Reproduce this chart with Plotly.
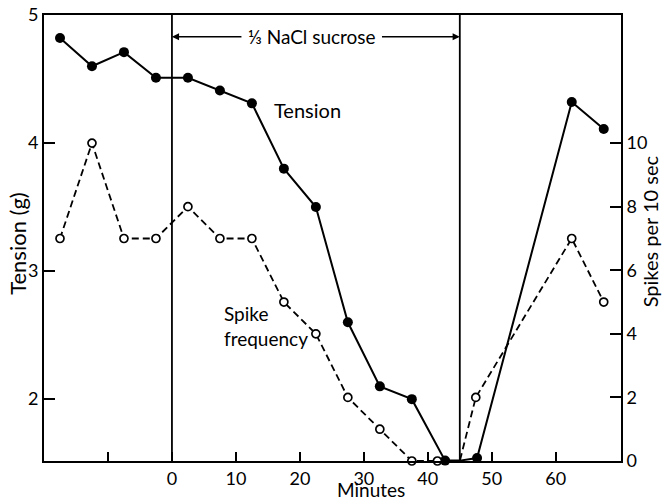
import plotly.graph_objects as go

# ---- data ----
minutes = [-17.5, -12.5, -7.5, -2.5, 2.5, 7.5, 12.5, 17.5, 22.5, 27.5, 32.5, 37.5, 42.7, 47.7, 62.5, 67.5]
tension = [4.82, 4.60, 4.71, 4.51, 4.51, 4.41, 4.31, 3.80, 3.50, 2.60, 2.10, 2.00, 1.52, 1.54, 4.32, 4.11]

spike_minutes = [-17.5, -12.5, -7.5, -2.5, 2.5, 7.5, 12.5, 17.5, 22.5, 27.5, 32.5, 37.5, 41.5, 47.5, 62.5, 67.5]
spikes = [7, 10, 7, 7, 8, 7, 7, 5, 4, 2, 1, 0, 0, 2, 7, 5]

solution_start = 0
solution_end = 45
solution_label = "⅓ NaCl sucrose"

x_ticks = [-10, 0, 10, 20, 30, 40, 50, 60]
x_ticktext = ["", "0", "10", "20", "30", "40", "50", "60"]
y_ticks = [2, 3, 4, 5]
y2_ticks = [0, 2, 4, 6, 8, 10]

FONT = "Lato, 'Open Sans', sans-serif"

# line traces pass through the bottom of the wash-out line at 45 min
n_before = 13
t_line_x = minutes[:n_before] + [solution_end] + minutes[n_before:]
t_line_y = tension[:n_before] + [tension[n_before - 1]] + tension[n_before:]
s_line_x = spike_minutes[:n_before] + [solution_end] + spike_minutes[n_before:]
s_line_y = spikes[:n_before] + [0] + spikes[n_before:]

fig = go.Figure()

fig.add_trace(go.Scatter(x=s_line_x, y=s_line_y, mode="lines", yaxis="y2",
                         line=dict(color="black", width=1.8, dash="7px,4px"),
                         cliponaxis=False, hoverinfo="skip", showlegend=False))
fig.add_trace(go.Scatter(x=spike_minutes, y=spikes, mode="markers", yaxis="y2",
                         marker=dict(symbol="circle", size=8, color="white",
                                     line=dict(color="black", width=1.7)),
                         cliponaxis=False, name="Spike frequency", showlegend=False))
fig.add_trace(go.Scatter(x=t_line_x, y=t_line_y, mode="lines",
                         line=dict(color="black", width=2),
                         cliponaxis=False, hoverinfo="skip", showlegend=False))
fig.add_trace(go.Scatter(x=minutes, y=tension, mode="markers",
                         marker=dict(symbol="circle", size=10, color="black"),
                         cliponaxis=False, name="Tension", showlegend=False))

# vertical lines marking the solution period
for xv in (solution_start, solution_end):
    fig.add_shape(type="line", xref="x", yref="paper", x0=xv, x1=xv, y0=0, y1=1,
                  line=dict(color="black", width=1.8))

ann_y = 4.83
mid_left = 11.1
mid_right = 32.6
fig.add_annotation(x=solution_start, y=ann_y, ax=mid_left, ay=ann_y, axref="x", ayref="y",
                   xref="x", yref="y", text="", showarrow=True, arrowhead=2,
                   arrowsize=1.1, arrowwidth=1.3, arrowcolor="black")
fig.add_annotation(x=solution_end, y=ann_y, ax=mid_right, ay=ann_y, axref="x", ayref="y",
                   xref="x", yref="y", text="", showarrow=True, arrowhead=2,
                   arrowsize=1.1, arrowwidth=1.3, arrowcolor="black")
fig.add_annotation(x=(mid_left + mid_right) / 2, y=ann_y, xref="x", yref="y",
                   text=solution_label, showarrow=False,
                   font=dict(family=FONT, size=19, color="black"))

fig.add_annotation(x=15.6, y=4.26, xref="x", yref="y", text="Tension", showarrow=False,
                   xanchor="left", font=dict(family=FONT, size=20, color="black"))
fig.add_annotation(x=7.8, y=2.57, xref="x", yref="y", text="Spike<br>frequency",
                   showarrow=False, xanchor="left", align="left",
                   font=dict(family=FONT, size=19, color="black"))

# axis titles
fig.add_annotation(x=-0.045, y=0.487, xref="paper", yref="paper", text="Tension (g)",
                   textangle=-90, showarrow=False, xanchor="center", yanchor="middle",
                   font=dict(family=FONT, size=22, color="black"))
fig.add_annotation(x=1.0503, y=0.515, xref="paper", yref="paper", text="Spikes per 10 sec",
                   textangle=-90, showarrow=False, xanchor="center", yanchor="middle",
                   font=dict(family=FONT, size=20, color="black"))
fig.add_annotation(x=0.567, y=-0.0919, xref="paper", yref="paper", text="Minutes",
                   showarrow=False, xanchor="center", yanchor="bottom", borderpad=0,
                   font=dict(family=FONT, size=19, color="black"))

fig.update_layout(
    width=662, height=501,
    margin=dict(l=44, r=41, t=15, b=40, autoexpand=False),
    paper_bgcolor="white", plot_bgcolor="white",
    font=dict(family=FONT, size=17, color="black"),
    xaxis=dict(range=[-20, 70.2], tickvals=x_ticks, ticktext=x_ticktext,
               ticks="inside", ticklen=9, tickwidth=1.5, tickcolor="black",
               tickfont=dict(size=18), automargin=False,
               showline=True, linecolor="black", linewidth=2, mirror=True,
               showgrid=False, zeroline=False, fixedrange=True),
    yaxis=dict(range=[1.517, 5.0], tickvals=y_ticks, ticks="inside", ticklen=11,
               tickwidth=1.5, tickcolor="black", tickfont=dict(size=18),
               automargin=False, showline=True, linecolor="black",
               linewidth=2, showgrid=False, zeroline=False, fixedrange=True),
    yaxis2=dict(range=[0, 14.03], tickvals=y2_ticks, overlaying="y", side="right",
                ticks="inside", ticklen=11, tickwidth=1.5, tickcolor="black",
                tickfont=dict(size=18), automargin=False,
                showline=True, linecolor="black", linewidth=2, showgrid=False,
                zeroline=False, fixedrange=True),
    showlegend=False,
)

fig.write_html("out.html")
